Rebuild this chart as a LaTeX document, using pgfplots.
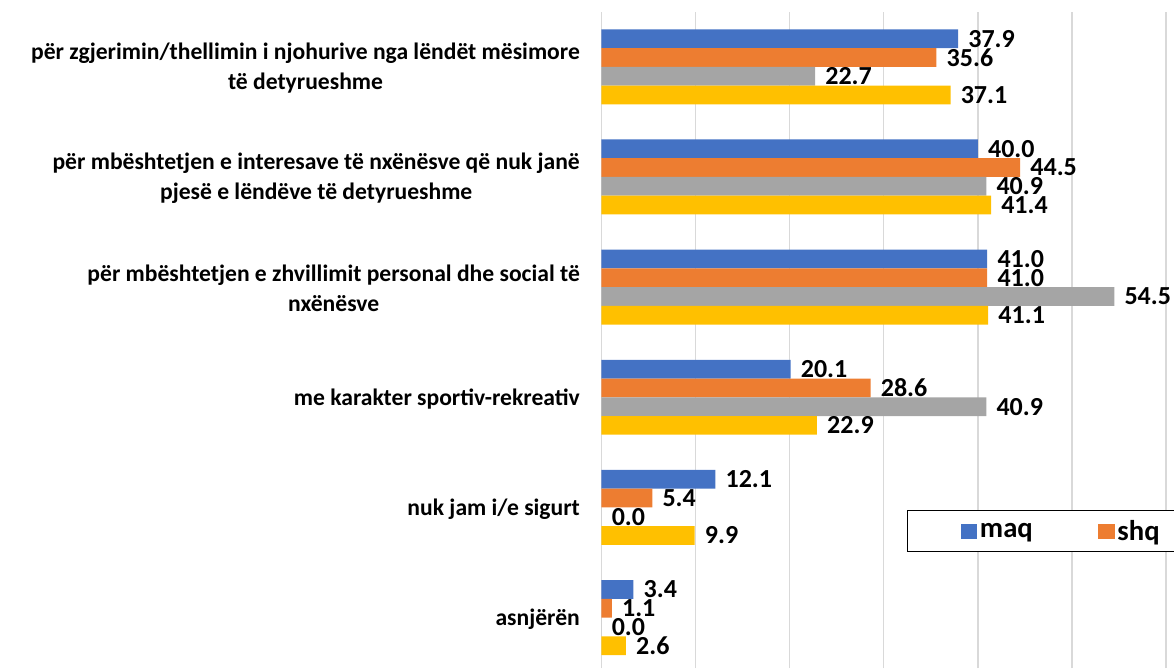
\documentclass[border=0pt]{standalone}
\usepackage{fontspec}
\setmainfont{Carlito}
\usepackage{pgfplots}
\pgfplotsset{compat=1.18}
\definecolor{cmaq}{HTML}{4472C4}
\definecolor{cshq}{HTML}{ED7D31}
\definecolor{cgray}{HTML}{A5A5A5}
\definecolor{cyel}{HTML}{FFC000}
\definecolor{gridgray}{HTML}{D9D9D9}
\begin{document}
\begin{tikzpicture}
\useasboundingbox (-451.125pt,0pt) rectangle (429.375pt,501pt);
\begin{axis}[
  at={(0pt,0pt)}, anchor=south west,
  width=429.375pt, height=492pt, scale only axis,
  xmin=0, xmax=60.85,
  ymin=-0.458, ymax=5.4976,
  xbar, bar width=14.06pt,
  axis line style={draw=none},
  xtick={0,10,...,60}, xticklabels={},
  xmajorgrids, grid style={draw=gridgray, line width=1pt},
  ytick={0,1,2,3,4,5},
  yticklabels={{asnjërën},{nuk jam i/e sigurt},{me karakter sportiv-rekreativ},{për mbështetjen e zhvillimit personal dhe social të\\nxënësve},{për mbështetjen e interesave të nxënësve që nuk janë\\pjesë e lëndëve të detyrueshme},{për zgjerimin/thellimin i njohurive nga lëndët mësimore\\të detyrueshme}},
  yticklabel style={align=center, font=\fontsize{17.7}{22.5}\selectfont\bfseries, inner sep=0pt, xshift=-16pt, yshift=-1pt},
  major tick length=0pt,
  point meta=x,
  nodes near coords={\pgfmathprintnumber[fixed,fixed zerofill,precision=1,assume math mode=true]{\pgfplotspointmeta}},
  every node near coord/.append style={anchor=west, inner sep=0pt, xshift=7.5pt, text=black, font=\fontsize{19.5}{22}\selectfont\bfseries},
  legend columns=2,
  legend style={at={(0.5331,0.1764)}, anchor=south west, draw=black, line width=0.9pt,
    inner xsep=40pt, inner ysep=5pt,
    font=\fontsize{21.5}{24}\selectfont\bfseries,
    /tikz/every even column/.append style={column sep=47pt}},
  legend image code/.code={\fill[#1] (0pt,-5.6pt) rectangle (12.5pt,5.6pt);},
  clip=false,
]
\addplot[fill=cmaq, draw=none, bar shift=21.09pt] coordinates {(37.9,5) (40.0,4) (41.0,3) (20.1,2) (12.1,1) (3.4,0)};
\addplot[fill=cshq, draw=none, bar shift=7.03pt] coordinates {(35.6,5) (44.5,4) (41.0,3) (28.6,2) (5.4,1) (1.1,0)};
\addplot[fill=cgray, draw=none, bar shift=-7.03pt, forget plot] coordinates {(22.7,5) (40.9,4) (54.5,3) (40.9,2) (0.0,1) (0.0,0)};
\addplot[fill=cyel, draw=none, bar shift=-21.09pt, forget plot] coordinates {(37.1,5) (41.4,4) (41.1,3) (22.9,2) (9.9,1) (2.6,0)};
\legend{maq,shq}
\end{axis}
\end{tikzpicture}
\end{document}
